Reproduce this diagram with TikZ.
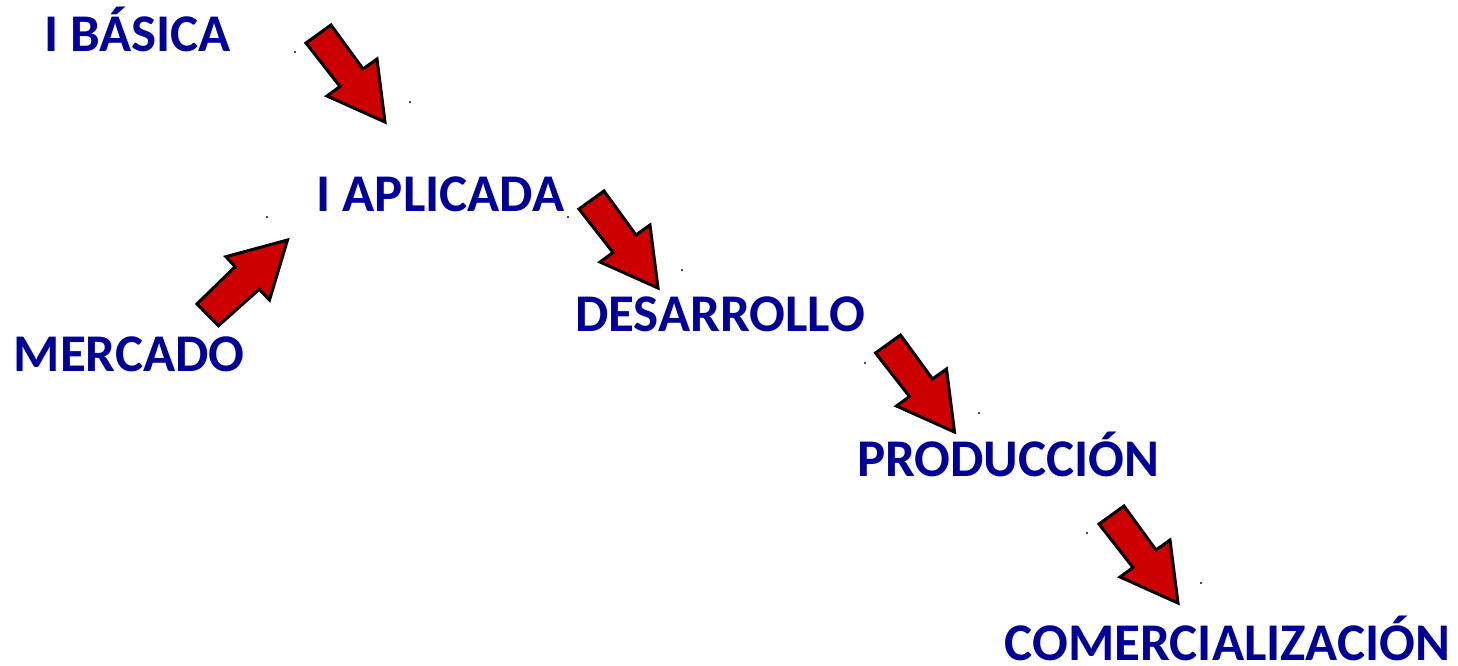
\documentclass[tikz,border=0pt]{standalone}
\usepackage{fontspec}
\setmainfont{Carlito}
\definecolor{txtblue}{RGB}{0,0,153}
\definecolor{arrred}{RGB}{204,0,0}
\tikzset{
  lbl/.style={anchor=base west, inner sep=0pt, text=txtblue, font=\fontsize{53}{54}\selectfont\bfseries},
  blockarrow/.style={fill=arrred, draw=black, line width=3pt, line join=miter},
  speck/.style={fill=black!70, inner sep=0pt, minimum size=1.5pt, draw=none},
  pics/downarrow/.style={code={
    \draw[blockarrow] (-79,-79) -- (-54,-97) -- (-22,-53) -- (-8,-63) -- (0,0) -- (-58,-26) -- (-45,-35.5) -- cycle;
  }},
  pics/uparrow/.style={code={
    \draw[blockarrow] (0,0) -- (-61.6,16.7) -- (-52.3,26.7) -- (-90.6,64) -- (-69,85.7) -- (-28.3,49.3) -- (-18,60) -- cycle;
  }}
}
\begin{document}
\begin{tikzpicture}[x=1pt,y=-1pt]
\useasboundingbox[fill=white] (0,0) rectangle (1458,665);
% labels
\node[lbl] (basica) at (44,51.7) {I BÁSICA};
\node[lbl] (aplicada) at (316.5,211.7) {I APLICADA};
\node[lbl] (mercado) at (13.5,371.5) {MERCADO};
\node[lbl] (desarrollo) at (575,331.5) {DESARROLLO};
\node[lbl] (produccion) at (857,476.5) {PRODUCCIÓN};
\node[lbl] (comercial) at (1004.5,660.5) {COMERCIALIZACIÓN};
% block arrows
\coordinate (t1) at (385,122);
\coordinate (t2) at (658,288);
\coordinate (t3) at (954.5,432);
\coordinate (t4) at (1178,603);
\coordinate (t5) at (287.5,240);
\pic at (t1) {downarrow};
\pic at (t2) {downarrow};
\pic at (t3) {downarrow};
\pic at (t4) {downarrow};
\pic at (t5) {uparrow};
% tiny specks
\foreach \p [count=\i] in {(295,52),(410,102),(267,217),(568,217),(682,270),(865,363),(979,413),(1087,533),(1201,583)}
  \node[speck] (s\i) at \p {};
\end{tikzpicture}
\end{document}
